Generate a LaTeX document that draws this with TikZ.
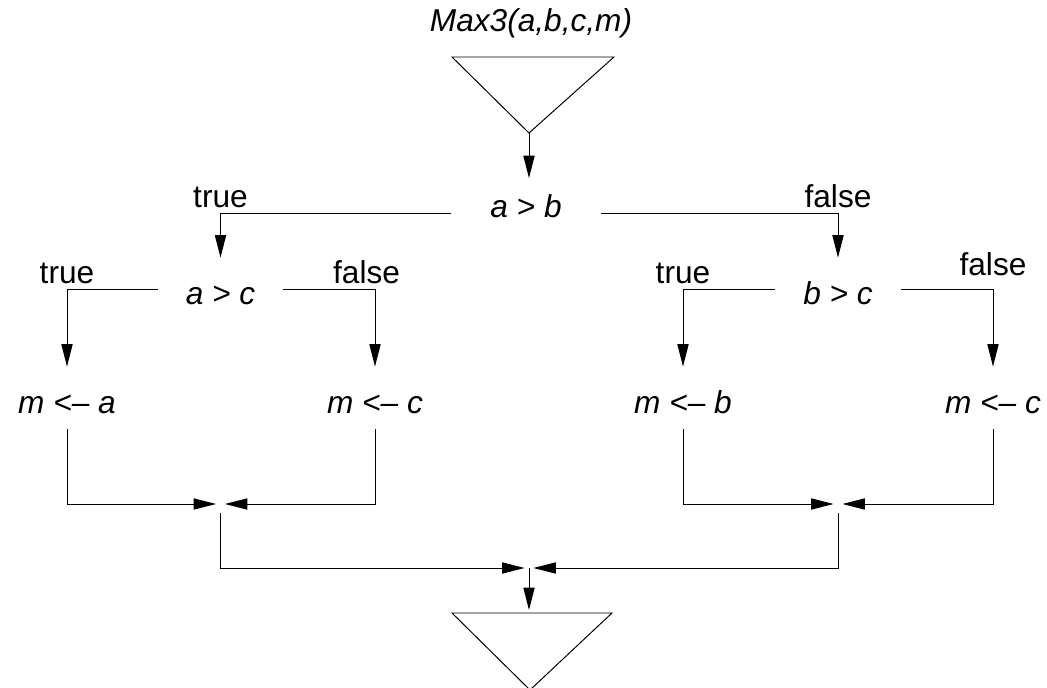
\documentclass[tikz,border=0pt]{standalone}
\usepackage{fontspec}
\setmainfont{Liberation Sans}
\usetikzlibrary{arrows.meta}
\newcommand\flowsize{\fontsize{22.5}{26}\selectfont}

\tikzset{
  flow/.style={-{Triangle[length=0.56cm,width=0.28cm]}},
  test/.style={font=\flowsize\itshape, text height=33pt, text depth=11pt, inner sep=0pt, minimum width=3.1cm},
  assign/.style={font=\flowsize\itshape, text height=33pt, text depth=11pt, inner ysep=0pt},
  lbl/.style={above, font=\flowsize},
  junction/.style={inner sep=0pt, minimum width=0.2cm, minimum height=0.45cm}
}

\begin{document}
\begin{tikzpicture}[x=0.025cm,y=-0.025cm,line width=0.7pt]
\useasboundingbox (0,0) rectangle (1047,688);
\node[font=\flowsize\itshape] (title) at (531,23) {Max3(a,b,c,m)};
\draw (452,57)--(614,57)--(529,133)--cycle;
\coordinate (start) at (529,133);
\node[test,minimum width=3.7cm,text height=28pt,text depth=21pt] (ab) at (526,213) {a > b};
\node[test] (ac) at (220.5,289) {a > c};
\node[test] (bc) at (838,289) {b > c};
\node[assign] (ma) at (67,398) {m <– a};
\node[assign] (mcl) at (375,398) {m <– c};
\node[assign] (mb) at (683,398) {m <– b};
\node[assign] (mcr) at (993,398) {m <– c};
\node[junction] (jl) at (220.5,504) {};
\node[junction] (jr) at (838,504) {};
\node[junction,minimum height=0pt] (jc) at (529,568) {};
\coordinate (stop) at (529,610);
\draw (452,613)--(612,613)--(530,690)--cycle;

\draw[flow] (start)--(start |- ab.north);
\draw[flow] (ab.west) -| node[lbl]{true} (ac.north);
\draw[flow] (ab.east) -| node[lbl]{false} (bc.north);
\draw[flow] (ac.west) -| node[lbl]{true} (ma.north);
\draw[flow] (ac.east) -| node[lbl,xshift=-6pt]{false} (mcl.north);
\draw[flow] (bc.west) -| node[lbl]{true} (mb.north);
\draw[flow] (bc.east) -| node[lbl,yshift=6pt]{false} (mcr.north);
\draw[flow] (ma.south) |- (jl);
\draw[flow] (mcl.south) |- (jl);
\draw[flow] (mb.south) |- (jr);
\draw[flow] (mcr.south) |- (jr);
\draw[flow] (jl.south) |- (jc);
\draw[flow] (jr.south) |- (jc);
\draw[flow] (jc)--(stop);
\end{tikzpicture}
\end{document}
